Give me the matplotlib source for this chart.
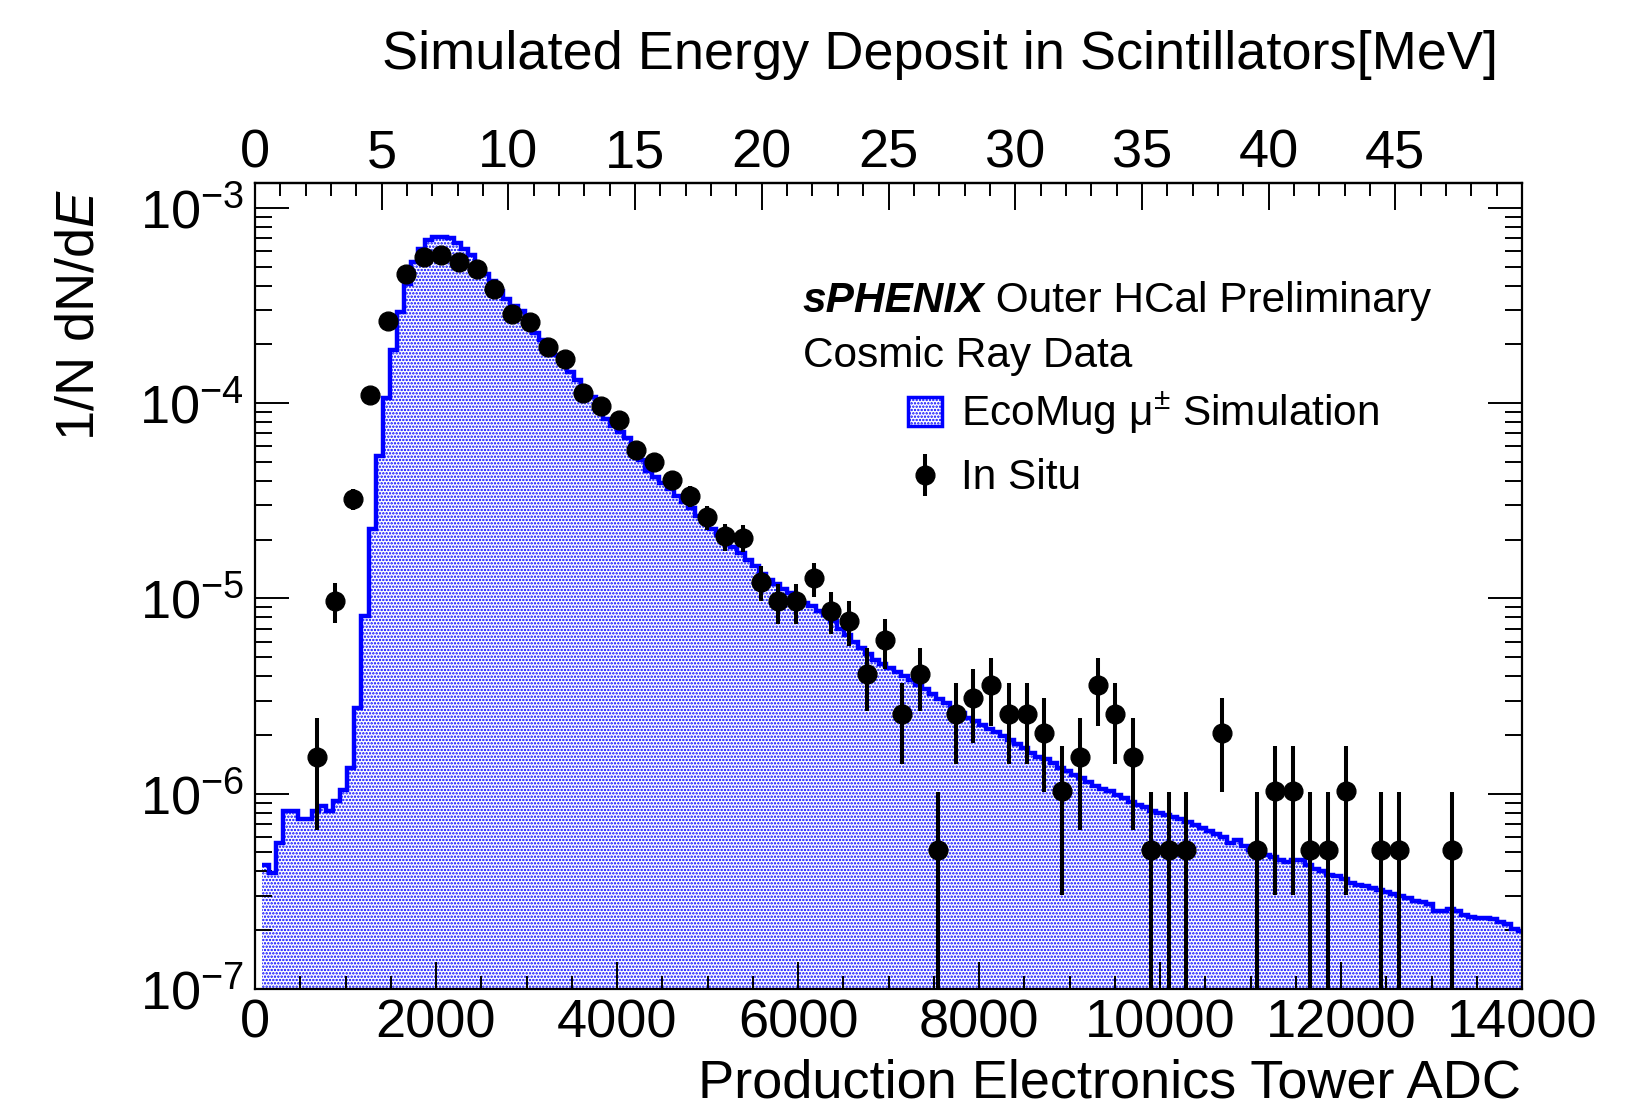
import numpy as np
import matplotlib.pyplot as plt
from matplotlib.patches import Patch
from matplotlib.ticker import MultipleLocator, LogLocator, NullFormatter, FixedLocator

plt.rcParams['font.family'] = ['Liberation Sans', 'DejaVu Sans']
plt.rcParams['mathtext.fontset'] = 'custom'
plt.rcParams['mathtext.rm'] = 'Liberation Sans'
plt.rcParams['mathtext.it'] = 'Liberation Sans:italic'
plt.rcParams['mathtext.bf'] = 'Liberation Sans:bold'
plt.rcParams['hatch.linewidth'] = 1.15

# EcoMug simulation, bins of 0.28 MeV (78.4 ADC), first bin (0-78.4) is empty
sim_bin = 78.4
sim_vals = [
    4.31e-7, 3.94e-7, 5.61e-7, 8.15e-7, 8.15e-7, 7.39e-7, 7.39e-7, 8.15e-7, 8.65e-7, 8.15e-7,
    9.18e-7, 1.05e-6, 1.36e-6, 2.76e-6, 8.15e-6, 2.27e-5, 5.35e-5, 1.06e-4, 1.86e-4, 2.93e-4,
    4.09e-4, 5.29e-4, 6.19e-4, 6.83e-4, 7.10e-4, 7.10e-4, 6.97e-4, 6.57e-4, 6.13e-4, 5.72e-4,
    5.10e-4, 4.60e-4, 4.20e-4, 3.75e-4, 3.40e-4, 3.15e-4, 2.95e-4, 2.60e-4, 2.28e-4, 2.10e-4,
    1.90e-4, 1.76e-4, 1.60e-4, 1.44e-4, 1.32e-4, 1.20e-4, 1.08e-4, 9.40e-5, 8.30e-5, 7.60e-5,
    7.10e-5, 6.60e-5, 5.90e-5, 5.10e-5, 4.50e-5, 4.20e-5, 3.90e-5, 3.64e-5, 3.35e-5, 3.10e-5,
    2.90e-5, 2.65e-5, 2.45e-5, 2.28e-5, 2.10e-5, 1.96e-5, 1.84e-5, 1.70e-5, 1.58e-5, 1.46e-5,
    1.34e-5, 1.24e-5, 1.18e-5, 1.12e-5, 1.07e-5, 1.01e-5, 9.50e-6, 9.10e-6, 8.60e-6, 8.20e-6,
    7.70e-6, 7.00e-6, 6.50e-6, 5.95e-6, 5.55e-6, 5.20e-6, 4.85e-6, 4.60e-6, 4.40e-6, 4.20e-6,
    4.00e-6, 3.80e-6, 3.60e-6, 3.45e-6, 3.25e-6, 3.05e-6, 2.90e-6, 2.72e-6, 2.60e-6, 2.45e-6,
    2.35e-6, 2.25e-6, 2.15e-6, 2.06e-6, 1.97e-6, 1.88e-6, 1.79e-6, 1.72e-6, 1.62e-6, 1.55e-6,
    1.50e-6, 1.44e-6, 1.36e-6, 1.30e-6, 1.25e-6, 1.20e-6, 1.15e-6, 1.10e-6, 1.06e-6, 1.03e-6,
    9.90e-7, 9.50e-7, 9.10e-7, 8.80e-7, 8.50e-7, 8.20e-7, 8.00e-7, 7.80e-7, 7.60e-7, 7.40e-7,
    7.15e-7, 6.90e-7, 6.70e-7, 6.45e-7, 6.25e-7, 6.00e-7, 5.60e-7, 5.77e-7, 5.40e-7, 5.15e-7,
    5.00e-7, 4.85e-7, 4.75e-7, 4.60e-7, 4.45e-7, 4.55e-7, 4.60e-7, 4.30e-7, 4.10e-7, 4.00e-7,
    3.85e-7, 3.78e-7, 3.65e-7, 3.50e-7, 3.42e-7, 3.35e-7, 3.28e-7, 3.20e-7, 3.12e-7, 3.08e-7,
    3.00e-7, 2.92e-7, 2.83e-7, 2.78e-7, 2.72e-7, 2.50e-7, 2.52e-7, 2.56e-7, 2.50e-7, 2.40e-7,
    2.35e-7, 2.32e-7, 2.30e-7, 2.28e-7, 2.20e-7, 2.15e-7, 2.02e-7, 1.98e-7,
]

# in situ cosmic data, bins of 0.7 MeV (196 ADC); empty bins are not listed
data_bin = 196
data_idx = [3, 4, 5, 6, 7, 8, 9, 10, 11, 12, 13, 14, 15, 16, 17, 18, 19, 20, 21, 22,
            23, 24, 25, 26, 27, 28, 29, 30, 31, 32, 33, 34, 35, 36, 37, 38, 39, 40, 41, 42,
            43, 44, 45, 46, 47, 48, 49, 50, 51, 52, 54, 56, 57, 58, 59, 60, 61, 63, 64, 67]
data_vals = [1.54e-6, 9.7e-6, 3.24e-5, 1.10e-4, 2.64e-4, 4.59e-4, 5.57e-4, 5.71e-4, 5.28e-4, 4.85e-4,
             3.83e-4, 2.85e-4, 2.60e-4, 1.93e-4, 1.68e-4, 1.13e-4, 9.62e-5, 8.19e-5, 5.77e-5, 4.98e-5,
             4.06e-5, 3.36e-5, 2.60e-5, 2.08e-5, 2.05e-5, 1.22e-5, 9.66e-6, 9.66e-6, 1.27e-5, 8.65e-6,
             7.69e-6, 4.10e-6, 6.10e-6, 2.56e-6, 4.10e-6, 5.13e-7, 2.56e-6, 3.08e-6, 3.59e-6, 2.56e-6,
             2.56e-6, 2.05e-6, 1.03e-6, 1.54e-6, 3.59e-6, 2.56e-6, 1.54e-6, 5.13e-7, 5.13e-7, 5.13e-7,
             2.05e-6, 5.13e-7, 1.03e-6, 1.03e-6, 5.13e-7, 5.13e-7, 1.03e-6, 5.13e-7, 5.13e-7, 5.13e-7]
one_count = 5.13e-7   # height of a single-entry data bin
adc_per_mev = 280.0

W, H = 1645, 1116
fig = plt.figure(figsize=(W / 100, H / 100), dpi=100)
ax = fig.add_axes([255 / W, 1 - 989 / H, (1522 - 255) / W, (989 - 183) / H])

sim = np.array(sim_vals)
edges = sim_bin * np.arange(1, len(sim) + 2)
ax.stairs(sim, edges, baseline=1e-9, fill=True, facecolor='white', edgecolor='blue',
          hatch='.....', linewidth=0, zorder=1)
ax.stairs(sim, edges, baseline=None, color='blue', linewidth=3.2, zorder=2)

dx = (np.array(data_idx) + 0.5) * data_bin
dy = np.array(data_vals)
err = np.sqrt(dy * one_count)
err_lo = np.minimum(err, dy - 1e-10)
eb = ax.errorbar(dx, dy, yerr=[err_lo, err], fmt='o', color='black', ms=13.5,
                 elinewidth=2.9, capsize=0, zorder=3)

ax.set_yscale('log')
ax.set_xlim(0, 14000)
ax.set_ylim(1e-7, 1.34e-3)

for s in ax.spines.values():
    s.set_linewidth(1.6)

ax.xaxis.set_major_locator(MultipleLocator(2000))
ax.xaxis.set_minor_locator(MultipleLocator(500))
ax.yaxis.set_major_locator(LogLocator(base=10))
ax.yaxis.set_minor_locator(LogLocator(base=10, subs=np.arange(2, 10)))
ax.yaxis.set_minor_formatter(NullFormatter())
ax.tick_params(axis='x', which='both', direction='in', top=False, bottom=True,
               labelsize=39, pad=7, width=1.4)
ax.tick_params(axis='x', which='major', length=19.5)
ax.tick_params(axis='x', which='minor', length=9.5)
ax.tick_params(axis='y', which='both', direction='in', left=True, right=True,
               labelsize=39, pad=8, width=1.4)
ax.tick_params(axis='y', which='major', length=24.5)
ax.tick_params(axis='y', which='minor', length=12)

top = ax.secondary_xaxis('top', functions=(lambda x: x / adc_per_mev, lambda m: m * adc_per_mev))
top.xaxis.set_major_locator(FixedLocator(np.arange(0, 50, 5)))
top.xaxis.set_minor_locator(MultipleLocator(1))
top.tick_params(axis='x', which='both', direction='in', labelsize=39, pad=3, width=1.4)
top.tick_params(axis='x', which='major', length=19.5)
top.tick_params(axis='x', which='minor', length=9.5)
top.spines['top'].set_linewidth(1.6)

fig.text(1498 / W, 1 - 69 / H, 'Simulated Energy Deposit in Scintillators[MeV]',
         ha='right', va='baseline', fontsize=39)
fig.text(1521 / W, 1 - 1098 / H, 'Production Electronics Tower ADC',
         ha='right', va='baseline', fontsize=39)
fig.text(80 / W, 1 - 189 / H, '1/N dN/d$E$', rotation=90, ha='center', va='top', fontsize=39)

t1 = fig.text(803 / W, 1 - 312 / H, 'sPHENIX', fontsize=30.5, fontweight='bold',
              fontstyle='italic', va='baseline')
ax.annotate(' Outer HCal Preliminary', xy=(1, 0), xycoords=t1, fontsize=30.5, va='bottom')
fig.text(803 / W, 1 - 367 / H, 'Cosmic Ray Data', fontsize=30.5, va='baseline')

sim_handle = Patch(facecolor='white', edgecolor='blue', hatch='.....', linewidth=2.5)
ax.legend([sim_handle, eb], ['EcoMug μ$^{\\pm}$ Simulation', 'In Situ'],
          loc='upper left', bbox_to_anchor=(908 / W, 1 - 390 / H),
          bbox_transform=fig.transFigure, frameon=False, fontsize=30.5,
          borderpad=0, borderaxespad=0, handlelength=0.8, handleheight=0.66,
          handletextpad=0.45, labelspacing=0.5)

fig.savefig('out.png', dpi=100)
